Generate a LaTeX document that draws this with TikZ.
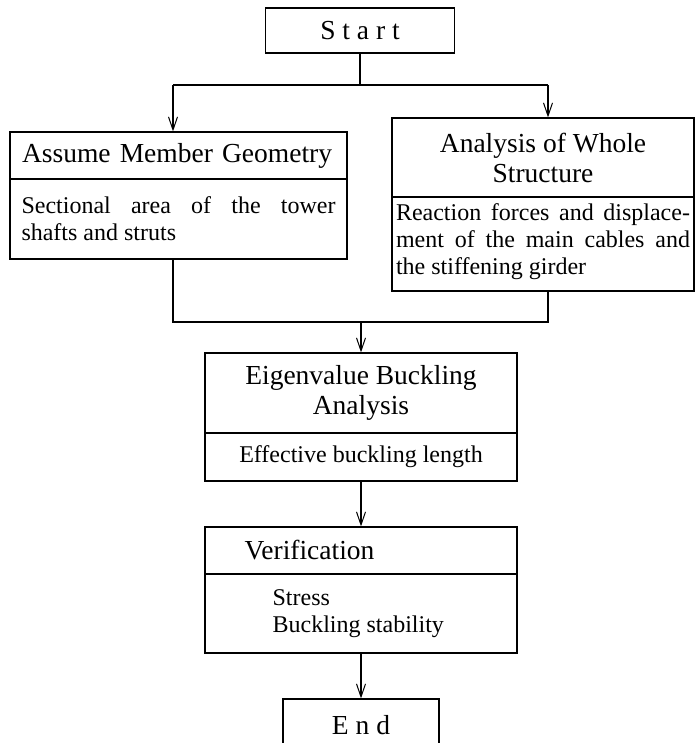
\documentclass[tikz,border=0pt]{standalone}
\usepackage{fontspec}
\setmainfont{Liberation Serif}
\newfontfamily\spacedfont[LetterSpace=25]{Liberation Serif}
\usetikzlibrary{arrows.meta}

\begin{document}
\begin{tikzpicture}[x=1pt, y=-1pt,
	every node/.style={inner sep=0pt},
	box/.style={draw, line width=1.2pt},
	head/.style={font=\fontsize{27.5}{30}\selectfont},
	body/.style={font=\fontsize{24}{27}\selectfont},
	ln/.style={line width=1.2pt},
	arr/.style={line width=1.2pt, -{Straight Barb[length=13pt, width=9pt, line width=1pt]}}]

	\clip (0,0) rectangle (696,743);

	\node[box, head, minimum width=189, minimum height=45] (start) at (360,30.5) {\spacedfont Start};

	% left branch
	\node[box, head, minimum width=337, minimum height=47, text width=313, align=left] (geom) at (178.5,155.5) {Assume Member Geometry};
	\node[box, body, minimum width=337, minimum height=80, text width=314, align=justify] (geombody) at (178.5,219) {Sectional area of the tower\linebreak shafts and struts};

	% right branch
	\node[box, head, minimum width=302, minimum height=79, align=center] (whole) at (543,157.5) {Analysis of Whole\\Structure};
	\node[box, body, minimum width=302, minimum height=94, text width=294, align=justify] (wholebody) at (543,244) {Reaction forces and displace-\linebreak ment of the main cables and\linebreak the stiffening girder\vspace{5pt}};

	\node[box, head, minimum width=312, minimum height=80, align=center] (eigen) at (361,393) {Eigenvalue Buckling\\Analysis};
	\node[box, body, minimum width=312, minimum height=48] (eigenbody) at (361,457) {Effective buckling length};

	\node[box, minimum width=312, minimum height=47] (verif) at (361,550.5) {};
	\node[box, minimum width=312, minimum height=79] (verifbody) at (361,613.5) {};
	\node[head, anchor=west] (veriftext) at ([xshift=40]verif.west) {Verification};
	\node[body, anchor=west, align=left] (verifitems) at ([xshift=68]verifbody.west) {Stress\\Buckling stability};

	\node[box, head, minimum width=156, minimum height=52] (end) at (361,725) {\spacedfont End};

	% connectors
	\coordinate (forkl) at (173,85);
	\coordinate (forkr) at (548,85);
	\coordinate (joinl) at (173,322);
	\coordinate (joinr) at (548,322);

	\draw[ln] (start.south) -- (start.south |- forkl);
	\draw[ln] (forkl) -- (forkr);
	\draw[arr] (forkl) -- (forkl |- geom.north);
	\draw[arr] (forkr) -- (forkr |- whole.north);
	\draw[ln] (forkl |- geombody.south) -- (joinl) -- (joinr) -- (forkr |- wholebody.south);
	\draw[arr] (joinl -| eigen.north) -- (eigen.north);
	\draw[arr] (eigenbody.south) -- (verif.north);
	\draw[arr] (verifbody.south) -- (end.north);

\end{tikzpicture}
\end{document}
